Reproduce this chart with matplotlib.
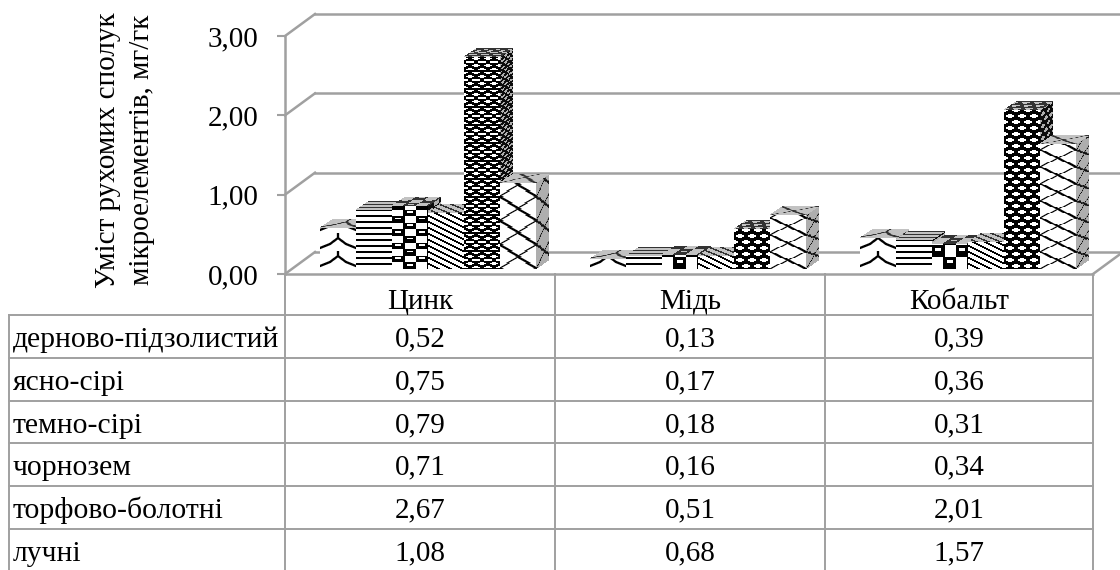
import numpy as np
import matplotlib
matplotlib.use('Agg')
import matplotlib.pyplot as plt

plt.rcParams['font.family'] = ['Liberation Serif', 'DejaVu Serif']

# data
elements = ['Цинк', 'Мідь', 'Кобальт']
soils = ['дерново-підзолистий', 'ясно-сірі', 'темно-сірі', 'чорнозем', 'торфово-болотні', 'лучні']
sod_podzolic = [0.52, 0.13, 0.39]
light_grey = [0.75, 0.17, 0.36]
dark_grey = [0.79, 0.18, 0.31]
chernozem = [0.71, 0.16, 0.34]
peat_bog = [2.67, 0.51, 2.01]
meadow = [1.08, 0.68, 1.57]
series = [sod_podzolic, light_grey, dark_grey, chernozem, peat_bog, meadow]
y_ticks = [0, 1, 2, 3]

W, H = 1120, 570
PX_X = 270.0    # pixels per category
PX_Y = 79.33    # pixels per unit
GREY = '#a0a0a0'
FONT_SIZE = 21


def comma(v):
    return f'{v:.2f}'.replace('.', ',')


def line_tile(w, h, segs):
    """Rasterize line segments (x0, y0, x1, y1, width) into a small b/w tile"""
    yy, xx = np.mgrid[0:h, 0:w] + 0.5
    tile = np.ones((h, w))
    for x0, y0, x1, y1, lw in segs:
        dx, dy = x1 - x0, y1 - y0
        t = np.clip(((xx - x0) * dx + (yy - y0) * dy) / (dx * dx + dy * dy), 0, 1)
        dist = np.hypot(xx - x0 - t * dx, yy - y0 - t * dy)
        tile = np.minimum(tile, np.clip(dist - lw / 2 + 0.5, 0, 1))
    return tile


def wave_tile():
    return line_tile(36, 18, [(0, 15, 10, 11, 2.3), (10, 11, 18, 5, 2.3), (18, 5, 26, 11, 2.3),
                              (26, 11, 36, 15, 2.3), (18, 0, 18, 5, 2.3)])


def stripe_tile():
    tile = np.ones((6, 1))
    tile[:2] = 0
    return tile


def block_tile():
    tile = np.ones((24, 24))
    tile[:12, :12] = 0
    tile[12:, 12:] = 0
    tile[:, 11:13] = 0
    tile[3:6, 3:9] = 1
    tile[15:18, 15:21] = 1
    return tile


def diagonal_tile():
    yy, xx = np.mgrid[0:6, 0:12]
    return ((yy - xx // 2) % 6 >= 2).astype(float)


def lattice_tile():
    yy, xx = np.mgrid[0:12, 0:12] + 0.5
    lens_a = ((xx - 6) / 4.6) ** 2 + ((yy - 3) / 1.7) ** 2 < 1
    lens_b = (np.minimum(xx, 12 - xx) / 4.6) ** 2 + ((yy - 9) / 1.7) ** 2 < 1
    return (lens_a | lens_b).astype(float)


def net_tile():
    return line_tile(36, 20, [(0, 0, 36, 20, 2.2), (0, 20, 36, 0, 1.2)])


# texture and its vertical scale for each category
textures = [wave_tile(), stripe_tile(), block_tile(), diagonal_tile(), lattice_tile(), net_tile()]
tex_scale = [(1, 1, 1), (1, 1, 1), (0.55, 1, 1), (1, 1, 1), (0.6, 1, 1), (1.2, 0.85, 0.85)]


def face(ax, x0, y0, u, v, nu, nv, tile, white, black, su=1.0, sv=1.0, zorder=3):
    """Draw a textured parallelogram as a mesh, u and v are its edges in data units"""
    ii, jj = np.meshgrid(np.arange(nu + 1) / nu, np.arange(nv + 1) / nv)
    X = x0 + ii * u[0] + jj * v[0]
    Y = y0 + ii * u[1] + jj * v[1]
    rows = (-(np.arange(nv) + 1) / sv).astype(int) % tile.shape[0]
    cols = (np.arange(nu) / su).astype(int) % tile.shape[1]
    shade = tile[np.ix_(rows, cols)]
    C = black + (white - black) * shade
    ax.pcolormesh(X, Y, C, cmap='gray', vmin=0, vmax=1, shading='flat',
                  antialiased=False, zorder=zorder)


fig = plt.figure(figsize=(W / 100, H / 100), dpi=100)

# table and labels go in a pixel sized overlay
tab = fig.add_axes([0, 0, 1, 1])
tab.set_xlim(0, W)
tab.set_ylim(H, 0)
tab.axis('off')

ax = fig.add_axes([285 / W, (H - 274) / H, (W - 285) / W, 274 / H])
ax.patch.set_alpha(0)
ax.set_xlim(0, (W - 285) / PX_X)
ax.set_ylim(0, 274 / PX_Y)
for name in ['top', 'right', 'bottom']:
    ax.spines[name].set_visible(False)
ax.spines['left'].set_color(GREY)
ax.spines['left'].set_linewidth(1.8)
ax.spines['left'].set_bounds(0, 3)
ax.set_xticks([])
ax.set_yticks(y_ticks)
ax.set_yticklabels([comma(v) for v in y_ticks], fontsize=FONT_SIZE, color='black')
ax.tick_params(axis='y', length=5.8, width=1.5, color=GREY, pad=13.5)

# walls and floor
depth_x = 30 / PX_X
depth_y = 22 / PX_Y
for v in y_ticks:
    ax.plot([0, depth_x], [v, v + depth_y], color=GREY, lw=1.8, zorder=1, clip_on=False)
    ax.plot([depth_x, (W - 285) / PX_X], [v + depth_y, v + depth_y], color=GREY, lw=1.8, zorder=1)
floor_end = len(elements) - 2 / PX_X
ax.plot([0, floor_end], [0, 0], color=GREY, lw=1.8, zorder=1, clip_on=False)
ax.plot([floor_end, floor_end + depth_x], [0, depth_y], color=GREY, lw=1.8, zorder=1)

# bars, left to right so each front covers the side of the previous one
bar_w = 36 / PX_X
side_x = 13 / PX_X
side_y = 9 / PX_Y
base = 5 / PX_Y
start = 35 / PX_X
for c in range(len(elements)):
    for k, values in enumerate(series):
        x = c + start + k * bar_w
        val = values[c]
        z = 3 + c * 10 + k
        tile = textures[k]
        sv = tex_scale[k][c]
        nv = max(int(round(val * PX_Y)), 1)
        ax.bar(x, val, bar_w, bottom=base, align='edge', color='white', zorder=z)
        face(ax, x, base, (bar_w, 0), (0, val), 36, nv, tile, 1.0, 0.0, sv=sv, zorder=z)
        face(ax, x + bar_w, base, (side_x, side_y), (0, val), 13, nv, tile, 0.68, 0.05,
             su=0.45, sv=sv, zorder=z)
        face(ax, x, base + val, (bar_w, 0), (side_x, side_y), 36, 9, tile, 0.76, 0.2,
             sv=0.5 * sv, zorder=z)

# y axis title
tab.text(125, 150, 'Уміст рухомих сполук\nмікроелементів, мг/гк', rotation=90, fontsize=FONT_SIZE,
         ha='center', va='center', linespacing=1.4)

# table under the chart
row_lines = [315, 358, 401, 443, 486, 529]
col_lines = [285, 555, 825, 1093]
for y in row_lines:
    tab.plot([9, col_lines[-1]], [y, y], color=GREY, lw=1.4)
for x in col_lines:
    tab.plot([x, x], [274, H], color=GREY, lw=1.4)
tab.plot([9, 9], [row_lines[0], H], color=GREY, lw=1.4)

for c, name in enumerate(elements):
    tab.text((col_lines[c] + col_lines[c + 1]) / 2, 309, name, fontsize=FONT_SIZE, ha='center', va='baseline')
for r, soil in enumerate(soils):
    base_y = row_lines[r] + 31
    tab.text(13, base_y + 1, soil, fontsize=21.3, ha='left', va='baseline')
    for c in range(len(elements)):
        tab.text((col_lines[c] + col_lines[c + 1]) / 2, base_y, comma(series[r][c]),
                 fontsize=FONT_SIZE, ha='center', va='baseline')

fig.savefig('out.png', dpi=100)
